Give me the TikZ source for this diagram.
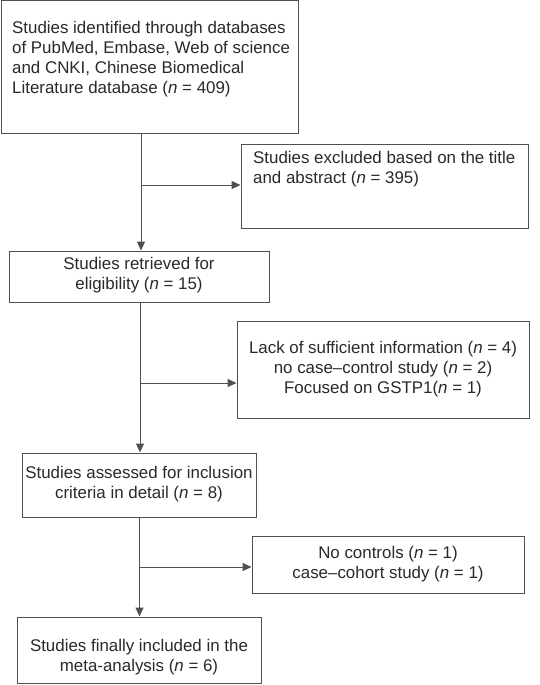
\documentclass[tikz,border=0pt]{standalone}
\usepackage{fontspec}
\setmainfont{Liberation Sans}
\usetikzlibrary{arrows.meta}
\definecolor{linegray}{HTML}{505050}
\definecolor{textgray}{HTML}{2A2A2A}
\begin{document}
\begin{tikzpicture}[x=1pt,y=-1pt,
  box/.style={draw=linegray, line width=1pt, inner sep=0pt, rectangle},
  txt/.style={text=textgray, inner sep=0pt, font=\fontsize{16.9}{20}\selectfont},
  conn/.style={draw=linegray, line width=1pt},
  arr/.style={conn, -{Triangle[length=9pt,width=8pt]}}]
\useasboundingbox (0,0) rectangle (540,685);
\fill[white] (0,0) rectangle (540,685);
% boxes
\node[box, minimum width=297pt, minimum height=132pt] (b1) at (150,67) {};
\node[box, minimum width=287pt, minimum height=84pt] (e1) at (384.5,186) {};
\node[box, minimum width=260pt, minimum height=51pt] (b2) at (139,276.5) {};
\node[box, minimum width=292pt, minimum height=97pt] (e2) at (383,369.5) {};
\node[box, minimum width=234pt, minimum height=64pt] (b3) at (139,485) {};
\node[box, minimum width=272pt, minimum height=57pt] (e3) at (388,564.5) {};
\node[box, minimum width=244pt, minimum height=66pt] (b4) at (139,650) {};
% texts
\node[txt, anchor=west, align=left] (t1) at (12,59) {Studies identified through databases\\of PubMed, Embase, Web of science\\and CNKI, Chinese Biomedical\\Literature database (\textit{n} = 409)};
\node[txt, anchor=west, align=left] (te1) at (253,169) {Studies excluded based on the title\\and abstract (\textit{n} = 395)};
\node[txt, align=center] (t2) at (139,275) {Studies retrieved for\\eligibility (\textit{n} = 15)};
\node[txt, align=center] (te2) at (383,369) {Lack of sufficient information (\textit{n} = 4)\\no case–control study (\textit{n} = 2)\\Focused on GSTP1(\textit{n} = 1)};
\node[txt, align=center] (t3) at (139,484) {Studies assessed for inclusion\\criteria in detail (\textit{n} = 8)};
\node[txt, align=center] (te3) at (388,564) {No controls (\textit{n} = 1)\\case–cohort study (\textit{n} = 1)};
\node[txt, align=center] (t4) at (139,657) {Studies finally included in the\\meta-analysis (\textit{n} = 6)};
% junctions
\coordinate (j1) at (141,185);
\coordinate (j2) at (140,383);
\coordinate (j3) at (139.5,567);
% connectors
\draw[arr] (b1.south -| j1) -- (b2.north -| j1);
\draw[arr] (j1) -- (e1.west |- j1);
\draw[arr] (b2.south -| j2) -- (b3.north -| j2);
\draw[arr] (j2) -- (e2.west |- j2);
\draw[arr] (b3.south -| j3) -- (b4.north -| j3);
\draw[arr] (j3) -- (e3.west |- j3);
\end{tikzpicture}
\end{document}
